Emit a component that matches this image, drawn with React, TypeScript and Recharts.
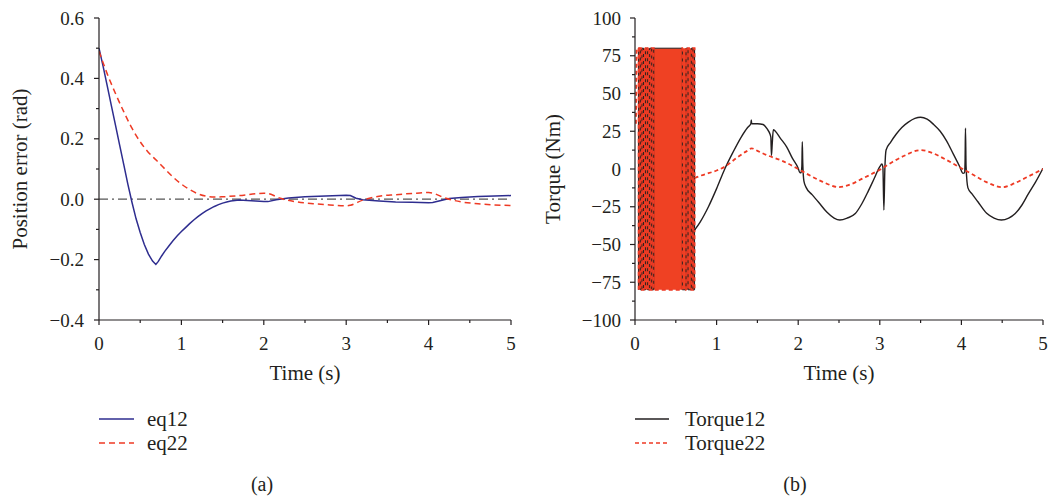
import React from 'react';
import { LineChart, Line, XAxis, YAxis, ReferenceLine, ReferenceArea, Legend } from 'recharts';

const FONT = '"Liberation Serif", "Times New Roman", Times, serif';
const INK = '#231f20';
const BLUE = '#2e2d8f';
const RED = '#ee3a24';
const FILL = '#ef4123';

// ---- ticks ----
const timeTicks = [0, 0.5, 1, 1.5, 2, 2.5, 3, 3.5, 4, 4.5, 5];
const timeLabels: Record<string, string> = { '0': '0', '1': '1', '2': '2', '3': '3', '4': '4', '5': '5' };
const errorTicks = [-0.4, -0.3, -0.2, -0.1, 0, 0.1, 0.2, 0.3, 0.4, 0.5, 0.6];
const errorLabels: Record<string, string> = { '-0.4': '−0.4', '-0.2': '−0.2', '0': '0.0', '0.2': '0.2', '0.4': '0.4', '0.6': '0.6' };
const torqueTicks = [-100, -87.5, -75, -62.5, -50, -37.5, -25, -12.5, 0, 12.5, 25, 37.5, 50, 62.5, 75, 87.5, 100];
const torqueLabels: Record<string, string> = { '-100': '−100', '-75': '−75', '-50': '−50', '-25': '−25', '0': '0', '25': '25', '50': '50', '75': '75', '100': '100' };

// ---- panel (a): position errors ----
const eq12 = [
  { t: 0, v: 0.5 }, { t: 0.05, v: 0.44 }, { t: 0.1, v: 0.375 }, { t: 0.15, v: 0.31 }, { t: 0.2, v: 0.245 },
  { t: 0.25, v: 0.18 }, { t: 0.3, v: 0.115 }, { t: 0.35, v: 0.05 }, { t: 0.4, v: -0.01 }, { t: 0.45, v: -0.065 },
  { t: 0.5, v: -0.11 }, { t: 0.55, v: -0.15 }, { t: 0.6, v: -0.182 }, { t: 0.65, v: -0.205 }, { t: 0.69, v: -0.216 },
  { t: 0.72, v: -0.206 }, { t: 0.76, v: -0.188 }, { t: 0.8, v: -0.172 }, { t: 0.85, v: -0.154 }, { t: 0.9, v: -0.137 },
  { t: 0.95, v: -0.121 }, { t: 1.0, v: -0.107 }, { t: 1.05, v: -0.094 }, { t: 1.1, v: -0.081 }, { t: 1.15, v: -0.069 },
  { t: 1.2, v: -0.058 }, { t: 1.25, v: -0.048 }, { t: 1.3, v: -0.039 }, { t: 1.35, v: -0.031 }, { t: 1.4, v: -0.024 },
  { t: 1.45, v: -0.018 }, { t: 1.5, v: -0.013 }, { t: 1.55, v: -0.009 }, { t: 1.6, v: -0.006 },
  { t: 1.7, v: -0.003 }, { t: 1.8, v: -0.004 }, { t: 1.9, v: -0.006 }, { t: 2.0, v: -0.008 }, { t: 2.05, v: -0.008 },
  { t: 2.15, v: -0.002 }, { t: 2.3, v: 0.004 }, { t: 2.5, v: 0.008 }, { t: 2.75, v: 0.011 }, { t: 3.0, v: 0.013 },
  { t: 3.05, v: 0.012 }, { t: 3.12, v: 0.003 }, { t: 3.2, v: -0.002 }, { t: 3.4, v: -0.006 }, { t: 3.6, v: -0.009 },
  { t: 3.8, v: -0.01 }, { t: 4.0, v: -0.012 }, { t: 4.05, v: -0.011 }, { t: 4.15, v: -0.004 }, { t: 4.25, v: 0.002 },
  { t: 4.4, v: 0.006 }, { t: 4.6, v: 0.009 }, { t: 4.8, v: 0.011 }, { t: 5.0, v: 0.012 },
];
const eq22 = [
  { t: 0, v: 0.49 }, { t: 0.1, v: 0.415 }, { t: 0.2, v: 0.35 }, { t: 0.3, v: 0.29 }, { t: 0.4, v: 0.235 },
  { t: 0.5, v: 0.19 }, { t: 0.6, v: 0.155 }, { t: 0.7, v: 0.128 }, { t: 0.8, v: 0.1 }, { t: 0.9, v: 0.073 },
  { t: 1.0, v: 0.05 }, { t: 1.1, v: 0.032 }, { t: 1.2, v: 0.018 }, { t: 1.3, v: 0.01 }, { t: 1.4, v: 0.007 },
  { t: 1.5, v: 0.008 }, { t: 1.7, v: 0.012 }, { t: 1.9, v: 0.018 }, { t: 2.0, v: 0.02 }, { t: 2.05, v: 0.019 },
  { t: 2.2, v: 0.003 }, { t: 2.4, v: -0.009 }, { t: 2.6, v: -0.015 }, { t: 2.8, v: -0.019 }, { t: 3.0, v: -0.022 },
  { t: 3.05, v: -0.02 }, { t: 3.2, v: -0.003 }, { t: 3.4, v: 0.01 }, { t: 3.6, v: 0.015 }, { t: 3.8, v: 0.019 },
  { t: 4.0, v: 0.022 }, { t: 4.05, v: 0.02 }, { t: 4.2, v: 0.004 }, { t: 4.4, v: -0.009 }, { t: 4.6, v: -0.015 },
  { t: 4.8, v: -0.019 }, { t: 5.0, v: -0.021 },
];

// ---- panel (b): torques ----
const torqueLimit = 80;
const chatterStart = 0.035;
const chatterEnd = 0.73;
// switching instants of the saturated (chattering) torque
const chatterSwitchTimes = [
  0.045, 0.065, 0.085, 0.105, 0.13, 0.155, 0.18, 0.205, 0.23,
  0.58, 0.625, 0.65, 0.69, 0.71, 0.73,
];
const torque12Smooth = [
  { t: 0.73, v: -40.5 }, { t: 0.8, v: -35 }, { t: 0.9, v: -25 }, { t: 1.0, v: -13 }, { t: 1.1, v: 0 },
  { t: 1.2, v: 11 }, { t: 1.3, v: 21 }, { t: 1.38, v: 27.5 }, { t: 1.42, v: 30 }, { t: 1.425, v: 32.5 },
  { t: 1.43, v: 30 }, { t: 1.5, v: 30 }, { t: 1.57, v: 29.5 }, { t: 1.62, v: 26.5 }, { t: 1.655, v: 23 },
  { t: 1.665, v: 21 }, { t: 1.672, v: 9 }, { t: 1.68, v: 15 }, { t: 1.695, v: 26 }, { t: 1.72, v: 25 },
  { t: 1.78, v: 20.5 }, { t: 1.86, v: 14.5 }, { t: 1.93, v: 7 }, { t: 2.0, v: 0.5 }, { t: 2.02, v: -2.4 },
  { t: 2.035, v: -2.5 }, { t: 2.045, v: 2 }, { t: 2.05, v: 18 }, { t: 2.056, v: 4 }, { t: 2.07, v: -8 },
  { t: 2.1, v: -12.5 }, { t: 2.17, v: -17 }, { t: 2.25, v: -22 }, { t: 2.35, v: -28.5 }, { t: 2.44, v: -32.5 },
  { t: 2.51, v: -33.8 }, { t: 2.6, v: -32.5 }, { t: 2.7, v: -29.5 }, { t: 2.78, v: -23 }, { t: 2.86, v: -14.5 },
  { t: 2.93, v: -6.5 }, { t: 3.0, v: 1.5 }, { t: 3.025, v: 3.3 }, { t: 3.038, v: 1 }, { t: 3.05, v: -27.2 },
  { t: 3.062, v: 0 }, { t: 3.077, v: 12.6 }, { t: 3.13, v: 17.5 }, { t: 3.2, v: 23 }, { t: 3.27, v: 27.5 },
  { t: 3.35, v: 31 }, { t: 3.43, v: 33.5 }, { t: 3.5, v: 34.3 }, { t: 3.58, v: 33 }, { t: 3.66, v: 29.5 },
  { t: 3.74, v: 25 }, { t: 3.82, v: 18.5 }, { t: 3.9, v: 10 }, { t: 3.98, v: 1.5 }, { t: 4.02, v: -2.9 },
  { t: 4.038, v: -2.5 }, { t: 4.045, v: 5 }, { t: 4.05, v: 27 }, { t: 4.057, v: 2 }, { t: 4.08, v: -12.5 },
  { t: 4.13, v: -16.5 }, { t: 4.2, v: -21.5 }, { t: 4.31, v: -29.3 }, { t: 4.4, v: -32.5 }, { t: 4.49, v: -33.8 },
  { t: 4.58, v: -32.5 }, { t: 4.66, v: -29.5 }, { t: 4.74, v: -24 }, { t: 4.82, v: -16.5 }, { t: 4.91, v: -8.5 },
  { t: 5.0, v: 0.5 },
];
const torque22Start = [{ t: 0.012, v: 30 }, { t: 0.02, v: 80 }];
const torque22Smooth = [
  { t: 0.73, v: -6 }, { t: 0.8, v: -4.5 }, { t: 0.9, v: -2.8 }, { t: 1.0, v: -1 }, { t: 1.1, v: 1.5 },
  { t: 1.25, v: 7.5 }, { t: 1.36, v: 11.5 }, { t: 1.43, v: 13.7 }, { t: 1.5, v: 12 }, { t: 1.61, v: 9.3 },
  { t: 1.8, v: 5.5 }, { t: 2.0, v: 0 }, { t: 2.15, v: -4.5 }, { t: 2.3, v: -8.5 }, { t: 2.5, v: -12 },
  { t: 2.65, v: -10 }, { t: 2.8, v: -6 }, { t: 3.0, v: -0.5 }, { t: 3.15, v: 4.5 }, { t: 3.3, v: 8.8 },
  { t: 3.5, v: 12.5 }, { t: 3.65, v: 10.5 }, { t: 3.8, v: 6.5 }, { t: 4.0, v: 0.5 }, { t: 4.15, v: -4 },
  { t: 4.3, v: -8.5 }, { t: 4.5, v: -12 }, { t: 4.65, v: -9.5 }, { t: 4.8, v: -5.5 }, { t: 5.0, v: 0 },
];

const captions = ['(a)', '(b)'];

// square wave between ±torqueLimit through the switching instants
const squareWave = (times: number[], startLevel: number) => {
  const pts: { t: number; v: number }[] = [];
  let level = startLevel;
  times.forEach((t) => {
    pts.push({ t, v: level });
    level = -level;
    pts.push({ t, v: level });
  });
  return pts;
};
const torque12Chatter = [...squareWave(chatterSwitchTimes, -torqueLimit), torque12Smooth[0]];
const torque22Chatter = [...torque22Start, ...squareWave(chatterSwitchTimes, torqueLimit), torque22Smooth[0]];

// ---- axis helpers ----
const YTick = (props: any) => {
  const { x, y, payload, labels, gap } = props;
  const label = labels[String(payload.value)];
  const major = label !== undefined;
  return (
    <g>
      <line x1={x} y1={y} x2={x - (major ? 5 : 3)} y2={y} stroke={INK} strokeWidth={1.2} />
      {major && (
        <text x={x - gap} y={y} dy="0.35em" textAnchor="end" fontFamily={FONT} fontSize={19} fill={INK}>
          {label}
        </text>
      )}
    </g>
  );
};
const XTick = (props: any) => {
  const { x, y, payload } = props;
  const label = timeLabels[String(payload.value)];
  const major = label !== undefined;
  return (
    <g>
      <line x1={x} y1={y} x2={x} y2={y + (major ? 5 : 3)} stroke={INK} strokeWidth={1.2} />
      {major && (
        <text x={x} y={y + 23} dy="0.35em" textAnchor="middle" fontFamily={FONT} fontSize={19} fill={INK}>
          {label}
        </text>
      )}
    </g>
  );
};
const yTitle = (text: string, dx: number) => (p: any) => {
  const vb = p.viewBox || {};
  const cx = (vb.x ?? 0) + dx;
  const cy = (vb.y ?? 0) + (vb.height ?? 0) / 2;
  return (
    <text x={cx} y={cy} transform={`rotate(-90 ${cx} ${cy})`} textAnchor="middle" dy="0.35em" fontFamily={FONT} fontSize={21} fill={INK}>
      {text}
    </text>
  );
};
const xTitle = (text: string) => (p: any) => {
  const vb = p.viewBox || {};
  const cx = (vb.x ?? 0) + (vb.width ?? 0) / 2;
  const cy = (vb.y ?? 0) + 53;
  return (
    <text x={cx} y={cy} textAnchor="middle" dy="0.35em" fontFamily={FONT} fontSize={21} fill={INK}>
      {text}
    </text>
  );
};
const legendContent = (lineLen: number, gap: number) => (p: any) => (
  <div style={{ fontFamily: FONT, fontSize: 21, color: INK, lineHeight: '24px' }}>
    {(p.payload || [])
      .filter((e: any) => e.type !== 'none')
      .map((e: any) => (
        <div key={e.value} style={{ display: 'flex', alignItems: 'center', height: 24 }}>
          <svg width={lineLen} height={6} style={{ display: 'block' }}>
            <line x1={0} y1={3} x2={lineLen} y2={3} stroke={e.color} strokeWidth={1.5} strokeDasharray={e.payload?.strokeDasharray} />
          </svg>
          <span style={{ marginLeft: gap, whiteSpace: 'nowrap' }}>{e.value}</span>
        </div>
      ))}
  </div>
);

const axisLine = { stroke: INK, strokeWidth: 1.2 };

export default function App() {
  return (
    <div style={{ position: 'absolute', left: 0, top: 0, width: 1052, height: 497, background: '#fff', overflow: 'hidden' }}>
      <div style={{ position: 'absolute', left: 0, top: 0 }}>
        <LineChart width={530} height={497} margin={{ top: 18, right: 19, left: 0, bottom: 147 }}>
          <XAxis
            type="number" dataKey="t" domain={[0, 5]} ticks={timeTicks} interval={0}
            tickSize={0} tickMargin={0} tickLine={false} axisLine={axisLine} height={30}
            tick={(p: any) => <XTick {...p} />} label={xTitle('Time (s)')} allowDataOverflow
          />
          <YAxis
            type="number" domain={[-0.4, 0.6]} ticks={errorTicks} interval={0} width={99}
            tickSize={0} tickMargin={0} tickLine={false} axisLine={axisLine}
            tick={(p: any) => <YTick {...p} labels={errorLabels} gap={15} />}
            label={yTitle('Position error (rad)', 20)} allowDataOverflow
          />
          <ReferenceLine y={0} stroke="#555" strokeWidth={1.2} strokeDasharray="9 4 2 4" />
          <Line data={eq12} dataKey="v" name="eq12" type="linear" stroke={BLUE} strokeWidth={1.5} dot={false} activeDot={false} isAnimationActive={false} />
          <Line data={eq22} dataKey="v" name="eq22" type="monotone" stroke={RED} strokeWidth={1.5} strokeDasharray="6 4" dot={false} activeDot={false} isAnimationActive={false} />
          <Legend
            layout="horizontal" verticalAlign="middle" align="center"
            wrapperStyle={{ position: 'absolute', left: 99, top: 407, width: 200 }}
            content={legendContent(35, 13)}
          />
        </LineChart>
      </div>
      <div style={{ position: 'absolute', left: 526, top: 0 }}>
        <LineChart width={526} height={497} margin={{ top: 18, right: 9, left: 0, bottom: 147 }}>
          <XAxis
            type="number" dataKey="t" domain={[0, 5]} ticks={timeTicks} interval={0}
            tickSize={0} tickMargin={0} tickLine={false} axisLine={axisLine} height={30}
            tick={(p: any) => <XTick {...p} />} label={xTitle('Time (s)')} allowDataOverflow
          />
          <YAxis
            type="number" domain={[-100, 100]} ticks={torqueTicks} interval={0} width={109}
            tickSize={0} tickMargin={0} tickLine={false} axisLine={axisLine}
            tick={(p: any) => <YTick {...p} labels={torqueLabels} gap={14} />}
            label={yTitle('Torque (Nm)', 27)} allowDataOverflow
          />
          <ReferenceArea x1={chatterStart} x2={chatterEnd} y1={-torqueLimit} y2={torqueLimit} fill={FILL} fillOpacity={1} stroke="none" />
          <Line data={torque12Chatter} dataKey="v" name="Torque12 chatter" legendType="none" type="linear" stroke={INK} strokeWidth={1} dot={false} activeDot={false} isAnimationActive={false} />
          <Line data={torque22Chatter} dataKey="v" name="Torque22 chatter" legendType="none" type="linear" stroke={RED} strokeWidth={1.8} strokeDasharray="4 3" dot={false} activeDot={false} isAnimationActive={false} />
          <Line data={torque12Smooth} dataKey="v" name="Torque12" type="monotone" stroke={INK} strokeWidth={1.4} dot={false} activeDot={false} isAnimationActive={false} />
          <Line data={torque22Smooth} dataKey="v" name="Torque22" type="monotone" stroke={RED} strokeWidth={1.8} strokeDasharray="4 3" dot={false} activeDot={false} isAnimationActive={false} />
          <Legend
            layout="horizontal" verticalAlign="middle" align="center"
            wrapperStyle={{ position: 'absolute', left: 109, top: 407, width: 220 }}
            content={legendContent(34, 16)}
          />
        </LineChart>
      </div>
      {captions.map((c, i) => (
        <div
          key={c}
          style={{
            position: 'absolute', left: (i === 0 ? 262 : 795) - 30, top: 472, width: 60, height: 24,
            lineHeight: '24px', textAlign: 'center', fontFamily: FONT, fontSize: 20, color: INK,
          }}
        >
          {c}
        </div>
      ))}
    </div>
  );
}
